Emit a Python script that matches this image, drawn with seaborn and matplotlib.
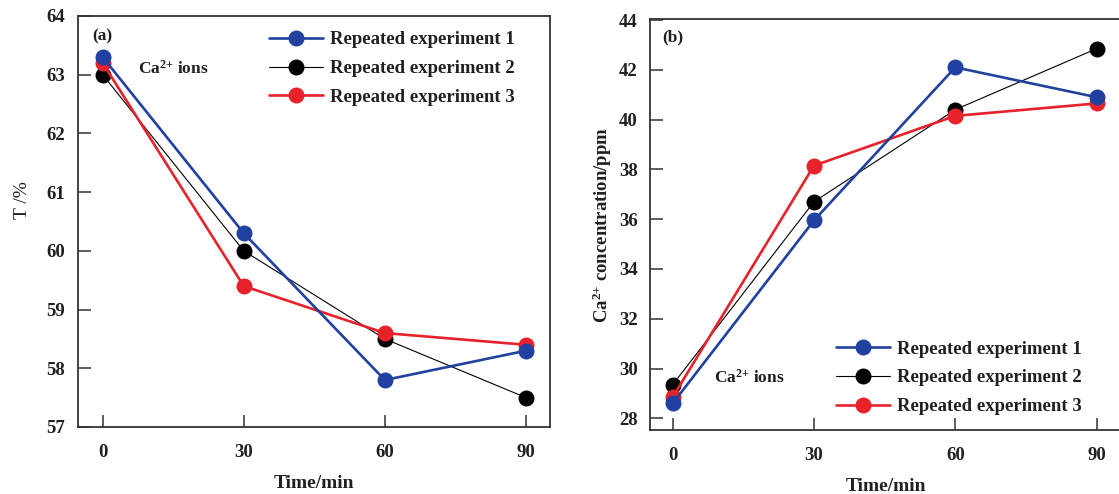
import numpy as np
import pandas as pd
import matplotlib
matplotlib.use("Agg")
import matplotlib.pyplot as plt
import seaborn as sns

# ---- data ----
time_min = [0, 30, 60, 90]
series_names = ["Repeated experiment 1", "Repeated experiment 2", "Repeated experiment 3"]

# (a) transmittance T / %
trans_exp1 = [63.3, 60.3, 57.8, 58.3]
trans_exp2 = [63.0, 60.0, 58.5, 57.5]
trans_exp3 = [63.2, 59.4, 58.6, 58.4]

# (b) Ca2+ concentration / ppm
conc_exp1 = [28.6, 35.95, 42.1, 40.9]
conc_exp2 = [29.35, 36.7, 40.4, 42.85]
conc_exp3 = [28.85, 38.15, 40.15, 40.65]

x_ticks = [0, 30, 60, 90]
a_yticks = [57, 58, 59, 60, 61, 62, 63, 64]
b_yticks = [28, 30, 32, 34, 36, 38, 40, 42, 44]

# ---- style ----
sns.set_theme(style="ticks")
TXT = "#231f20"
plt.rcParams.update({
    "font.family": ["Liberation Serif", "DejaVu Serif"],
    "font.weight": "bold",
    "axes.labelweight": "bold",
    "mathtext.fontset": "custom",
    "mathtext.rm": "Liberation Serif:bold",
    "mathtext.it": "Liberation Serif:bold",
    "mathtext.bf": "Liberation Serif:bold",
    "text.color": TXT,
    "axes.labelcolor": TXT,
    "xtick.color": "#333333",
    "ytick.color": "#333333",
    "xtick.labelcolor": TXT,
    "ytick.labelcolor": TXT,
    "axes.edgecolor": "#333333",
})

colors = {series_names[0]: "#2141a0", series_names[1]: "#000000", series_names[2]: "#e8222b"}
widths = {series_names[0]: 1.9, series_names[1]: 0.8, series_names[2]: 1.9}
zorders = {series_names[0]: 4, series_names[1]: 2, series_names[2]: 3}


def long_frame(vals):
    rows = []
    for name, v in zip(series_names, vals):
        for t, y in zip(time_min, v):
            rows.append({"time": t, "value": y, "series": name})
    return pd.DataFrame(rows)


df_a = long_frame([trans_exp1, trans_exp2, trans_exp3])
df_b = long_frame([conc_exp1, conc_exp2, conc_exp3])

fig = plt.figure(figsize=(11.19, 4.94), dpi=100)
W, H = 1119, 494
ax_a = fig.add_axes([77.7 / W, 1 - 427 / H, (550 - 77.7) / W, (427 - 16) / H])
ax_b = fig.add_axes([650.3 / W, 1 - 430 / H, (1121 - 650.3) / W, (430 - 19.3) / H])

FS = 13.5
ION_LABEL = r"Ca$^{2{+}}$ ions"


def draw(ax, df):
    for name in series_names:
        sub = df[df["series"] == name]
        sns.lineplot(data=sub, x="time", y="value", ax=ax, color=colors[name],
                     linewidth=widths[name], marker="o", markersize=11.5,
                     markeredgewidth=0, label=name, zorder=zorders[name])
    for s in ax.spines.values():
        s.set_linewidth(1.3)
    ax.tick_params(direction="in", length=9, width=1.1, labelsize=FS, pad=9)
    ax.tick_params(axis="x", pad=12)
    ax.set_xticks(x_ticks)
    ax.set_xlabel("Time/min", fontsize=FS + 0.5, labelpad=10)


legend_kw = dict(loc="upper left", frameon=False, fontsize=FS, handlelength=2.9,
                 handletextpad=0.35, labelspacing=0.62, borderpad=0, borderaxespad=0)

draw(ax_a, df_a)
ax_a.set_xlim(-5.3, 95.1)
ax_a.set_ylim(57, 64)
ax_a.set_yticks(a_yticks)
ax_a.set_ylabel("T /%", fontsize=FS + 0.5, fontweight="normal")
ax_a.yaxis.set_label_coords(-0.098, 0.552)
ax_a.text(0, 63.66, "(a)", ha="center", va="center", fontsize=FS - 1)
ax_a.text(7.5, 63.11, ION_LABEL, ha="left", va="center", fontsize=FS - 1)
ax_a.legend(bbox_to_anchor=(0.405, 0.963), **legend_kw)

draw(ax_b, df_b)
ax_b.set_xlim(-4.75, 95.18)
ax_b.set_ylim(27.53, 44.03)
ax_b.set_yticks(b_yticks)
ax_b.set_ylabel(r"Ca$^{2{+}}$ concentration/ppm", fontsize=FS, labelpad=3.4)
ax_b.text(0, 43.32, "(b)", ha="center", va="center", fontsize=FS - 1)
ax_b.text(8.8, 29.62, ION_LABEL, ha="left", va="center", fontsize=FS - 1)
ax_b.legend(bbox_to_anchor=(0.3945, 0.218), **legend_kw)

fig.savefig("out.png", dpi=100)
